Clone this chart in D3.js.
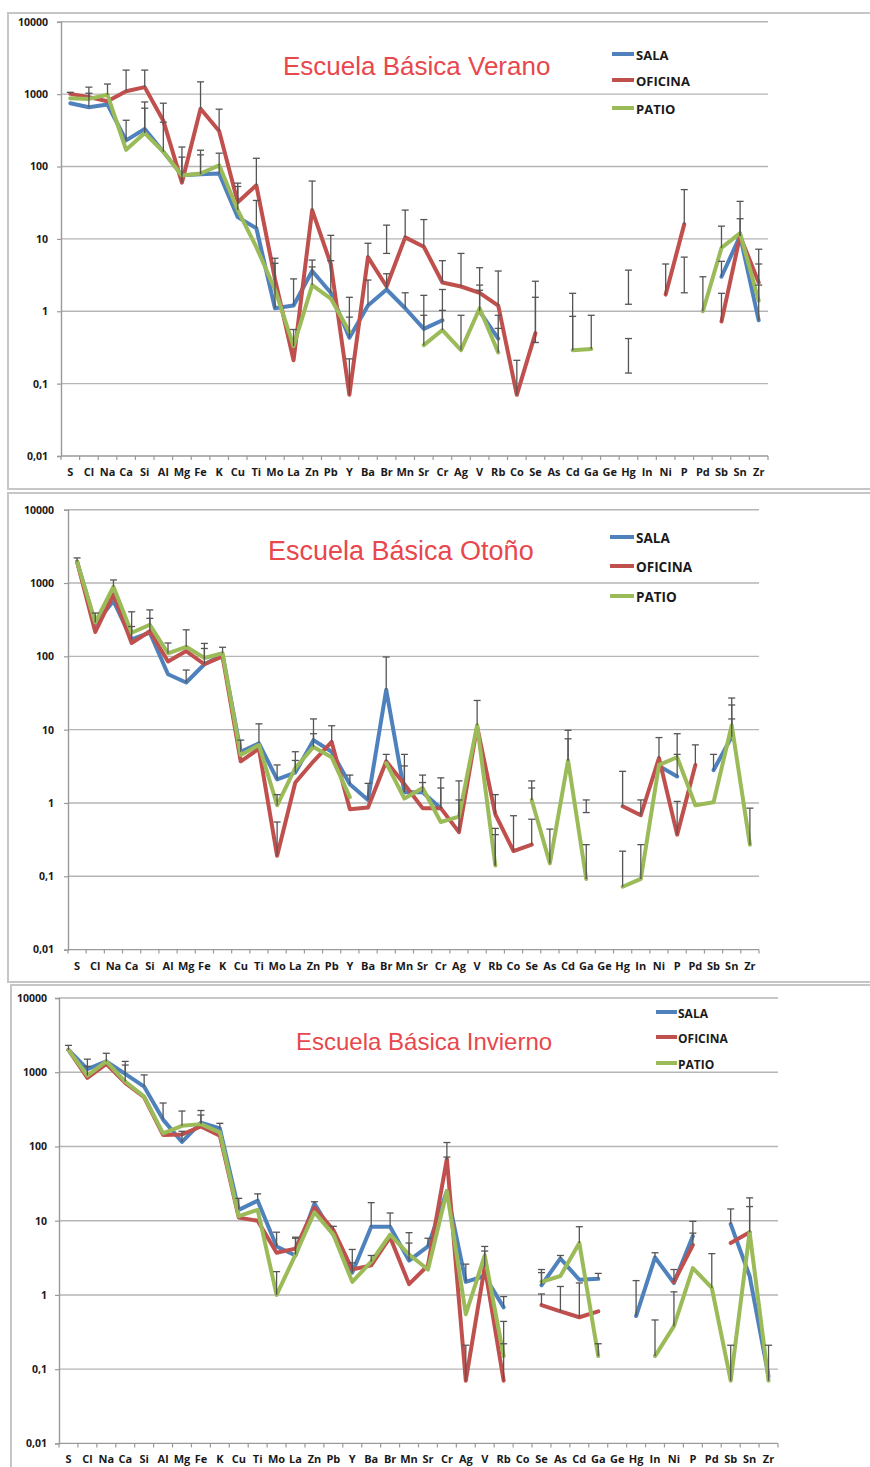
<!DOCTYPE html>
<html>
<head>
<meta charset="utf-8">
<script src="https://cdn.jsdelivr.net/npm/d3@7/dist/d3.min.js"></script>
<style>
  html, body { margin: 0; padding: 0; background: #ffffff; }
  svg { display: block; }
</style>
</head>
<body>
<svg id="chart" width="870" height="1467"></svg>
<script>
// ---- shared categories, ticks and series ----
const categories = ["S","Cl","Na","Ca","Si","Al","Mg","Fe","K","Cu","Ti","Mo","La","Zn","Pb","Y","Ba","Br","Mn","Sr",
  "Cr","Ag","V","Rb","Co","Se","As","Cd","Ga","Ge","Hg","In","Ni","P","Pd","Sb","Sn","Zr"];
const yTickValues = [0.01, 0.1, 1, 10, 100, 1000, 10000];
const yTickLabels = ["0,01", "0,1", "1", "10", "100", "1000", "10000"];
const seriesNames = ["SALA", "OFICINA", "PATIO"];
const seriesColors = ["#4f81bd", "#c0504d", "#9bbb59"];
const titles = ["Escuela Básica Verano", "Escuela Básica Otoño", "Escuela Básica Invierno"];

// ---- Verano ----
const veranoSala = [750, 660, 720, 230, 330, 160, 76, 78, 80, 20, 14, 1.1, 1.2, 3.6, 1.8, 0.43, 1.2, 2.0, 1.1, 0.57,
  0.75, null, 1.0, 0.42, null, null, null, null, null, null, null, null, null, null, null, 3.0, 11, 0.75];
const veranoOficina = [1010, 910, 800, 1100, 1250, 430, 60, 630, 310, 32, 55, 2.8, 0.21, 25, 4.5, 0.07, 5.6, 2.2, 10.5, 7.8,
  2.5, 2.2, 1.8, 1.2, 0.07, 0.5, null, null, null, null, null, null, 1.7, 16, null, 0.72, 11, 2.5];
const veranoPatio = [880, 860, 980, 170, 290, 160, 75, 80, 104, 25, 7.7, 2.0, 0.33, 2.3, 1.5, 0.52, null, null, null, 0.34,
  0.55, 0.29, 1.1, 0.27, null, null, null, 0.29, 0.3, null, null, null, null, null, 1.0, 7.5, 12, 1.4];
// error bars: [element, low, high, direction]  "+" = upper only, "±" = both ends
const veranoErrors = [
  ["S",1010,1060,"+"], ["Cl",660,1250,"+"], ["Cl",910,1030,"+"], ["Na",980,1380,"+"],
  ["Ca",1100,2150,"+"], ["Ca",230,436,"+"], ["Si",1250,2150,"+"], ["Si",330,780,"+"], ["Si",290,640,"+"],
  ["Al",430,750,"+"], ["Al",160,410,"+"], ["Mg",60,186,"+"], ["Mg",76,135,"+"],
  ["Fe",630,1480,"+"], ["Fe",78,168,"+"], ["Fe",80,145,"+"], ["K",310,620,"+"], ["K",80,153,"+"],
  ["Cu",32,59,"+"], ["Cu",25,53,"+"], ["Ti",55,130,"+"], ["Ti",14,34,"+"],
  ["Mo",2.8,5.4,"+"], ["Mo",1.1,4.6,"+"], ["La",1.2,2.8,"+"], ["La",0.33,0.56,"+"],
  ["Zn",25,63,"+"], ["Zn",3.6,5.1,"+"], ["Zn",2.3,4.1,"+"], ["Pb",4.5,11.2,"+"], ["Pb",1.8,5.0,"+"],
  ["Y",0.43,1.56,"+"], ["Y",0.52,0.83,"+"], ["Y",0.07,0.22,"+"], ["Ba",5.6,8.7,"+"], ["Ba",1.2,2.7,"+"],
  ["Br",6.3,15.5,"±"], ["Br",2.0,3.3,"+"], ["Mn",10.5,25,"+"], ["Mn",1.1,1.8,"+"],
  ["Sr",7.8,18.5,"+"], ["Sr",0.57,1.66,"+"], ["Sr",0.34,0.88,"+"],
  ["Cr",2.5,5.0,"+"], ["Cr",0.75,2.0,"+"], ["Cr",0.55,1.03,"+"], ["Ag",2.2,6.3,"+"], ["Ag",0.29,0.88,"+"],
  ["V",1.8,4.0,"+"], ["V",1.1,2.3,"+"], ["V",1.0,1.95,"+"],
  ["Rb",1.2,3.6,"+"], ["Rb",0.42,0.88,"+"], ["Rb",0.27,0.58,"+"], ["Co",0.07,0.21,"+"],
  ["Se",0.5,2.6,"+"], ["Se",0.37,1.56,"±"], ["Cd",0.29,1.77,"+"], ["Cd",0.29,0.85,"+"], ["Ga",0.3,0.88,"+"],
  ["Hg",1.25,3.7,"±"], ["Hg",0.14,0.42,"±"], ["Ni",1.7,4.5,"+"], ["P",16,48,"+"], ["P",1.8,5.6,"±"],
  ["Pd",1.0,3.0,"+"], ["Sb",3.0,4.9,"+"], ["Sb",0.72,1.77,"+"], ["Sb",7.5,15,"+"],
  ["Sn",11,33,"+"], ["Sn",11,19,"+"], ["Zr",2.5,7.2,"+"], ["Zr",1.4,4.5,"+"], ["Zr",0.75,2.3,"+"]
];

// ---- Otoño ----
const otonoSala = [1950, 280, 570, 170, 210, 57, 44, 78, 105, 5.0, 6.5, 2.1, 2.6, 7.2, 5.0, 1.8, 1.1, 35, 1.4, 1.4,
  0.85, null, null, null, null, null, null, null, null, null, null, null, 3.2, 2.3, null, 2.8, 8, null];
const otonoOficina = [1950, 215, 700, 152, 220, 85, 118, 78, 100, 3.7, 5.5, 0.19, 1.9, 3.7, 6.8, 0.82, 0.87, 3.7, 1.8, 0.85,
  0.85, 0.4, 11, 0.7, 0.22, 0.27, null, null, null, null, 0.9, 0.68, 4.1, 0.37, 3.3, null, null, null];
const otonoPatio = [1950, 290, 890, 210, 270, 110, 135, 95, 110, 4.5, 6.2, 0.93, 3.0, 5.8, 4.2, 1.2, null, 3.5, 1.15, 1.6,
  0.55, 0.65, 11.5, 0.14, null, 1.1, 0.15, 3.8, 0.092, null, 0.072, 0.092, 3.3, 4.2, 0.93, 1.02, 11.5, 0.27];
const otonoErrors = [
  ["S",1950,2200,"+"], ["Cl",290,390,"+"], ["Na",890,1100,"+"], ["Ca",210,405,"+"], ["Ca",170,255,"+"],
  ["Si",270,430,"+"], ["Si",220,330,"+"], ["Al",110,152,"+"], ["Mg",135,230,"+"], ["Mg",44,65,"+"],
  ["Fe",95,150,"+"], ["Fe",78,128,"+"], ["K",110,133,"+"], ["Cu",5,7.2,"+"], ["Ti",6.5,12,"+"],
  ["Mo",2.1,3.3,"+"], ["Mo",0.93,1.3,"+"], ["Mo",0.19,0.55,"+"], ["La",3.0,5.0,"+"], ["La",2.6,3.8,"+"],
  ["Zn",7.2,14,"+"], ["Zn",5.8,8.8,"+"], ["Pb",6.8,11.3,"+"], ["Y",1.8,2.4,"+"], ["Ba",1.1,1.85,"+"],
  ["Br",35,98,"+"], ["Br",3.7,4.6,"+"], ["Mn",1.8,4.6,"+"], ["Mn",1.4,3.2,"+"], ["Sr",1.6,2.4,"+"], ["Sr",1.4,1.9,"+"],
  ["Cr",0.85,2.2,"+"], ["Cr",0.85,1.6,"+"], ["Ag",0.65,2.0,"+"], ["Ag",0.4,1.1,"+"], ["V",11.5,25,"+"],
  ["Rb",0.7,1.3,"+"], ["Rb",0.14,0.45,"+"], ["Rb",0.14,0.37,"+"], ["Co",0.22,0.67,"+"],
  ["Se",1.1,2.0,"+"], ["Se",1.1,1.6,"+"], ["Se",0.27,0.6,"+"], ["As",0.15,0.44,"+"],
  ["Cd",3.8,9.8,"+"], ["Cd",3.8,7.5,"+"], ["Ga",0.092,0.27,"+"], ["Ga",0.74,1.1,"±"],
  ["Hg",0.9,2.7,"+"], ["Hg",0.072,0.22,"+"], ["In",0.68,1.1,"+"], ["In",0.092,0.27,"+"], ["Ni",4.1,7.8,"+"],
  ["P",4.2,8.8,"+"], ["P",2.3,4.6,"+"], ["P",0.37,1.05,"+"], ["Pd",3.3,6.2,"+"], ["Sb",2.8,4.6,"+"],
  ["Sn",11.5,27,"+"], ["Sn",11.5,21.7,"+"], ["Sn",8,14,"+"], ["Zr",0.27,0.85,"+"]
];

// ---- Invierno ----
const inviernoSala = [2000, 1100, 1400, 950, 640, 230, 115, 210, 175, 14, 18.6, 4.5, 3.4, 17, 6.5, 2.0, 8.3, 8.3, 2.9, 4.5,
  25, 1.5, 1.8, 0.68, null, 1.35, 3.1, 1.6, 1.65, null, 0.52, 3.2, 1.45, 6.2, null, 9, 1.8, 0.08];
const inviernoOficina = [2000, 840, 1300, 720, 460, 143, 145, 186, 140, 11, 10, 3.7, 4.2, 15, 7.5, 2.2, 2.5, 6.0, 1.4, 2.5,
  68, 0.07, 2.4, 0.07, null, 0.73, 0.6, 0.5, 0.6, null, null, null, 1.5, 4.7, null, 5.0, 7.0, null];
const inviernoPatio = [2000, 900, 1400, 750, 470, 150, 190, 200, 155, 11.5, 14, 1.0, 3.5, 13, 6.5, 1.5, 2.8, 6.5, 3.5, 2.2,
  25, 0.55, 3.4, 0.15, null, 1.5, 1.8, 5.0, 0.15, null, null, 0.15, 0.38, 2.3, 1.25, 0.07, 7.0, 0.07];
const inviernoErrors = [
  ["S",2000,2300,"+"], ["Cl",1100,1500,"+"], ["Cl",900,1200,"+"], ["Na",1400,1800,"+"],
  ["Ca",950,1400,"+"], ["Ca",750,1250,"+"], ["Si",640,920,"+"], ["Al",230,385,"+"],
  ["Mg",190,300,"+"], ["Mg",115,160,"+"], ["Fe",210,305,"+"], ["Fe",200,265,"+"], ["K",175,205,"+"],
  ["Cu",14,20,"+"], ["Ti",18.6,23,"+"], ["Mo",4.5,7.0,"+"], ["Mo",1.0,2.06,"+"], ["La",4.2,6.0,"+"], ["La",3.5,5.8,"+"],
  ["Zn",17,18,"+"], ["Pb",7.5,8.4,"+"], ["Y",2.2,4.1,"+"], ["Y",2.0,2.7,"+"], ["Ba",8.3,17.5,"+"], ["Ba",2.8,3.4,"+"],
  ["Br",8.3,12.7,"+"], ["Mn",2.9,6.9,"+"], ["Mn",3.5,5.0,"+"], ["Sr",4.5,5.8,"+"],
  ["Cr",68,113,"+"], ["Cr",65,72,"+"], ["Ag",1.5,2.6,"+"], ["Ag",0.07,0.21,"+"], ["V",3.4,4.5,"+"], ["V",2.4,3.9,"+"],
  ["Rb",0.68,0.95,"+"], ["Rb",0.15,0.44,"+"], ["Rb",0.07,0.22,"+"],
  ["Se",1.5,2.2,"+"], ["Se",1.35,2.0,"+"], ["Se",0.73,1.03,"+"], ["As",3.1,3.4,"+"], ["As",0.6,1.3,"+"],
  ["Cd",5.0,8.3,"+"], ["Cd",0.5,1.45,"+"], ["Ga",1.65,1.95,"+"], ["Ga",0.15,0.22,"+"],
  ["Hg",0.52,1.56,"+"], ["In",3.2,3.7,"+"], ["In",0.15,0.46,"+"], ["Ni",1.5,2.2,"+"], ["Ni",0.38,1.1,"+"],
  ["P",6.2,9.8,"+"], ["P",4.7,6.8,"+"], ["Pd",1.25,3.6,"+"], ["Sb",9,14.4,"+"], ["Sb",0.07,0.21,"+"],
  ["Sn",7,20.3,"+"], ["Sn",7,15.5,"+"], ["Zr",0.07,0.21,"+"]
];

const panelData = [
  { series: [veranoSala, veranoOficina, veranoPatio], errors: veranoErrors },
  { series: [otonoSala, otonoOficina, otonoPatio], errors: otonoErrors },
  { series: [inviernoSala, inviernoOficina, inviernoPatio], errors: inviernoErrors }
];

// ---- layout of the three stacked panels ----
const layouts = [
  { frame: [8, 13, 900, 476], plot: { left: 61, right: 768, top: 21.8, bottom: 456 },
    yLabelX: 48, xLabelY: 478, title: { x: 283, y: 75, size: 26 },
    legend: { x1: 612, x2: 634, tx: 636, ys: [54, 80, 108], size: 13 } },
  { frame: [8, 493, 900, 489], plot: { left: 68, right: 759, top: 509.7, bottom: 949.6 },
    yLabelX: 54, xLabelY: 972, title: { x: 268, y: 560, size: 27 },
    legend: { x1: 610, x2: 634, tx: 636, ys: [537, 566, 596], size: 13.5 } },
  { frame: [11, 985, 900, 500], plot: { left: 59, right: 778, top: 998, bottom: 1443.4 },
    yLabelX: 47, xLabelY: 1465, title: { x: 296, y: 1050, size: 24 },
    legend: { x1: 656, x2: 677, tx: 678, ys: [1012, 1037, 1063], size: 12 } }
];

const svg = d3.select("#chart");
const gridColor = "#b5b5b5";
const axisColor = "#9a9a9a";
const errColor = "#555555";
const labelFont = "'Open Sans', 'DejaVu Sans', sans-serif";

layouts.forEach((L, pi) => {
  const D = panelData[pi];
  const g = svg.append("g");

  // panel frame
  g.append("rect")
    .attr("x", L.frame[0]).attr("y", L.frame[1])
    .attr("width", L.frame[2]).attr("height", L.frame[3])
    .attr("fill", "#ffffff").attr("stroke", "#c6c6c6").attr("stroke-width", 2);

  const x = d3.scaleBand().domain(categories).range([L.plot.left, L.plot.right]).padding(0);
  const y = d3.scaleLog().domain([0.01, 10000]).range([L.plot.bottom, L.plot.top]);
  const cx = c => x(c) + x.bandwidth() / 2;

  // horizontal gridlines
  g.append("g").selectAll("line")
    .data(yTickValues.filter(v => v > 0.01))
    .join("line")
    .attr("x1", L.plot.left).attr("x2", L.plot.right)
    .attr("y1", d => y(d)).attr("y2", d => y(d))
    .attr("stroke", gridColor).attr("stroke-width", 1.4);

  // y axis
  const yAxis = d3.axisLeft(y)
    .tickValues(yTickValues)
    .tickFormat((d, i) => yTickLabels[yTickValues.indexOf(d)])
    .tickSize(4).tickPadding(L.plot.left - L.yLabelX - 4);
  const ya = g.append("g").attr("transform", `translate(${L.plot.left},0)`).call(yAxis);
  ya.select(".domain").attr("stroke", axisColor).attr("stroke-width", 1.4);
  ya.selectAll(".tick line").attr("stroke", axisColor).attr("stroke-width", 1.2);
  ya.selectAll(".tick text")
    .attr("font-family", labelFont).attr("font-weight", 700)
    .attr("font-size", 10.5).attr("fill", "#1a1a1a");

  // x axis: labels centred in bands, ticks at band edges
  const xAxis = d3.axisBottom(x).tickSize(0).tickPadding(L.xLabelY - L.plot.bottom - 10);
  const xa = g.append("g").attr("transform", `translate(0,${L.plot.bottom})`).call(xAxis);
  xa.select(".domain").remove();
  xa.selectAll(".tick text")
    .attr("font-family", labelFont).attr("font-weight", 700)
    .attr("font-size", 11).attr("fill", "#1a1a1a");
  g.append("line")
    .attr("x1", L.plot.left).attr("x2", L.plot.right)
    .attr("y1", L.plot.bottom).attr("y2", L.plot.bottom)
    .attr("stroke", axisColor).attr("stroke-width", 1.4);
  const edges = categories.map(c => x(c)).concat([x(categories[categories.length - 1]) + x.bandwidth()]);
  g.append("g").selectAll("line").data(edges).join("line")
    .attr("x1", d => d).attr("x2", d => d)
    .attr("y1", L.plot.bottom).attr("y2", L.plot.bottom + 4)
    .attr("stroke", axisColor).attr("stroke-width", 1.2);

  // series lines (gaps where no value)
  const line = d3.line()
    .defined(d => d.v != null)
    .x(d => cx(d.c))
    .y(d => y(d.v));
  D.series.forEach((vals, si) => {
    const pts = categories.map((c, i) => ({ c, v: vals[i] }));
    g.append("path")
      .datum(pts)
      .attr("d", line)
      .attr("fill", "none")
      .attr("stroke", seriesColors[si])
      .attr("stroke-width", 4)
      .attr("stroke-linejoin", "round")
      .attr("stroke-linecap", "round");
  });

  // error bars
  const eg = g.append("g").attr("stroke", errColor).attr("stroke-width", 1.3);
  D.errors.forEach(([c, lo, hi, dir]) => {
    const px = cx(c);
    eg.append("line").attr("x1", px).attr("x2", px).attr("y1", y(lo)).attr("y2", y(hi));
    eg.append("line").attr("x1", px - 3.5).attr("x2", px + 3.5).attr("y1", y(hi)).attr("y2", y(hi));
    if (dir === "±") {
      eg.append("line").attr("x1", px - 3.5).attr("x2", px + 3.5).attr("y1", y(lo)).attr("y2", y(lo));
    }
  });

  // title
  g.append("text")
    .attr("x", L.title.x).attr("y", L.title.y)
    .attr("font-family", "'Liberation Sans', Arial, Helvetica, sans-serif")
    .attr("font-size", L.title.size)
    .attr("fill", "#e8474c")
    .text(titles[pi]);

  // legend
  seriesNames.forEach((name, si) => {
    const ly = L.legend.ys[si];
    g.append("line")
      .attr("x1", L.legend.x1).attr("x2", L.legend.x2)
      .attr("y1", ly).attr("y2", ly)
      .attr("stroke", seriesColors[si]).attr("stroke-width", 4);
    g.append("text")
      .attr("x", L.legend.tx).attr("y", ly + 1)
      .attr("dominant-baseline", "central")
      .attr("font-family", labelFont).attr("font-weight", 700)
      .attr("font-size", L.legend.size).attr("fill", "#1a1a1a")
      .text(name);
  });
});
</script>
</body>
</html>
